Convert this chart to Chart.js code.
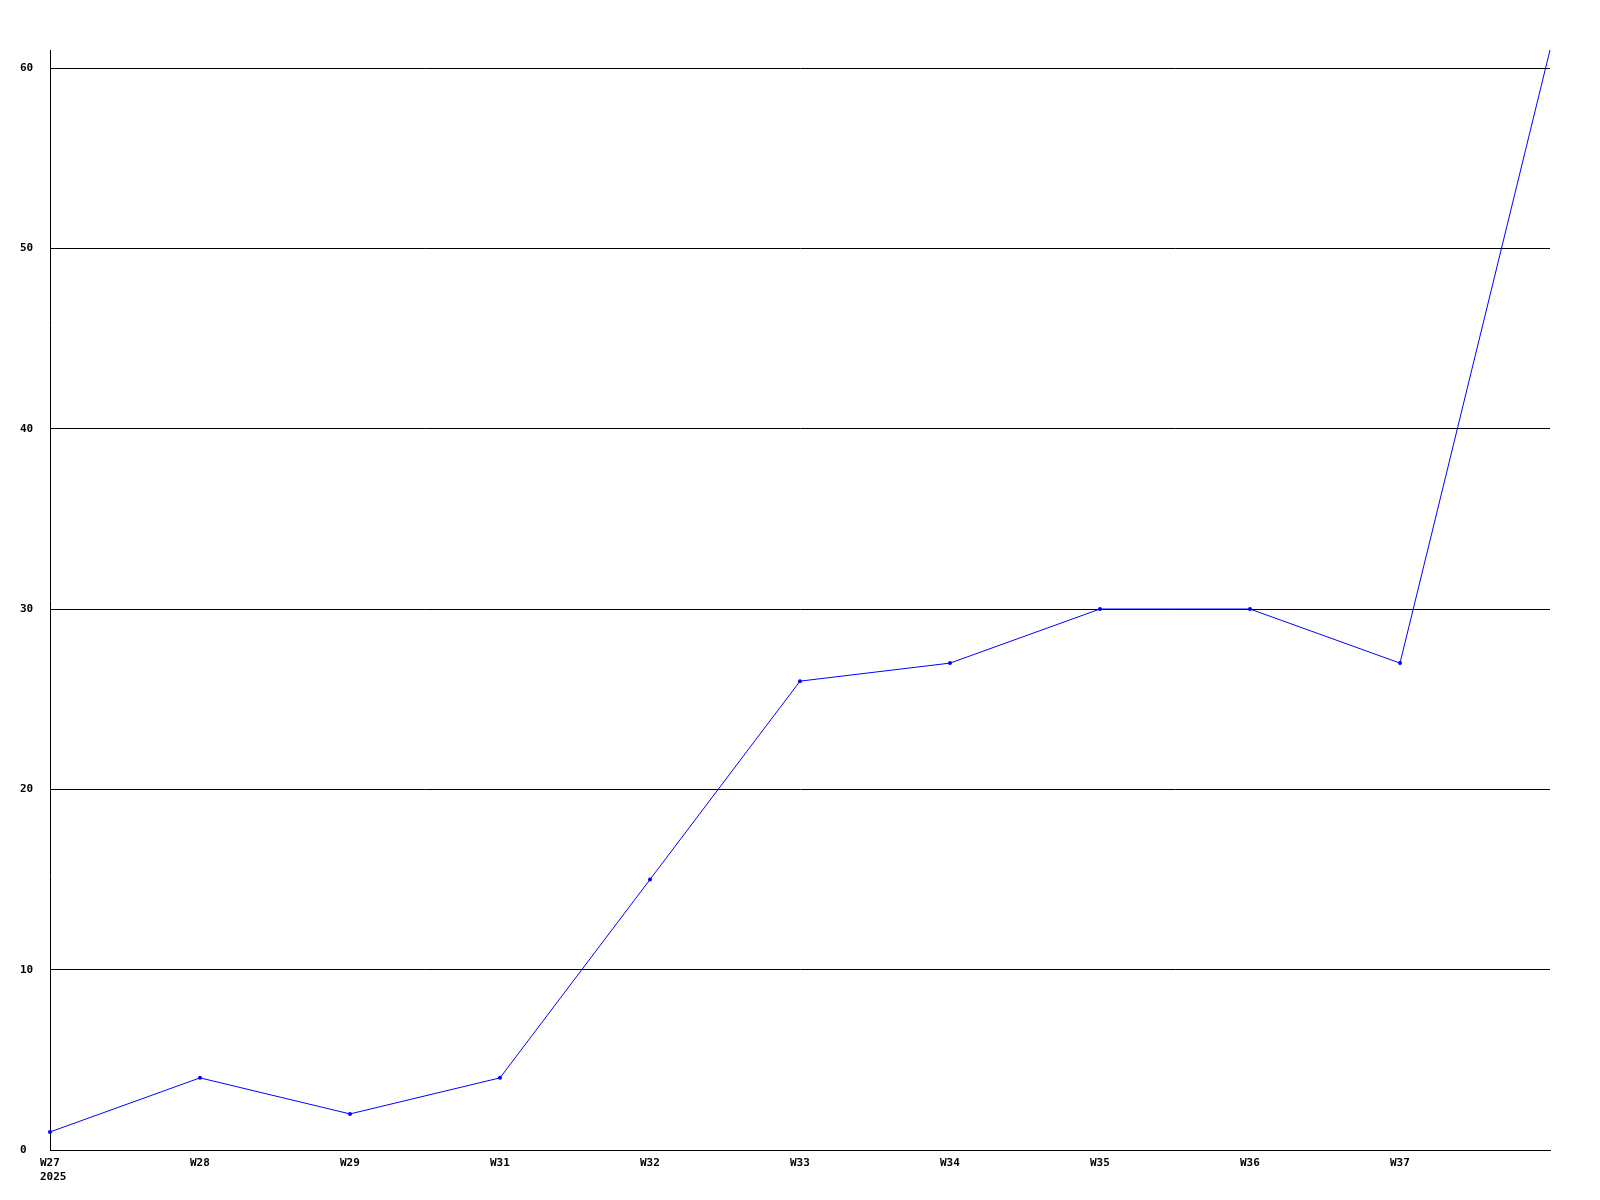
<!DOCTYPE html>
<html>
<head>
<meta charset="utf-8">
<script src="https://cdn.jsdelivr.net/npm/chart.js@4/dist/chart.umd.min.js"></script>
<style>
  html, body { margin: 0; padding: 0; background: #fff; }
  #wrap { width: 1600px; height: 1200px; }
</style>
</head>
<body>
<div id="wrap"><canvas id="grafico" width="1600" height="1200"></canvas></div>
<script>
// semanas (a ultima nao tem rotulo)
const semanas = [["W27", "2025"], "W28", "W29", "W31", "W32", "W33", "W34", "W35", "W36", "W37", ""];
const valores = [1, 4, 2, 4, 15, 26, 27, 30, 30, 27, 61];
const yTicks = [0, 10, 20, 30, 40, 50, 60];
const yMax = 61;

const fonte = { family: "'DejaVu Sans Mono', monospace", size: 11, weight: "bold" };
const grafico = document.getElementById("grafico").getContext("2d");

const meuGrafico = new Chart(grafico, {
  type: "line",
  data: {
    labels: semanas,
    datasets: [
      {
        data: valores,
        borderColor: "#0000ff",
        backgroundColor: "#0000ff",
        borderWidth: 1,
        // o ultimo ponto fica cortado no topo
        pointRadius: (ctx) => (ctx.dataIndex === valores.length - 1 ? 0 : 2),
        pointHoverRadius: 2,
        pointBorderWidth: 0,
        tension: 0,
      },
    ],
  },
  options: {
    responsive: false,
    animation: false,
    layout: { padding: { left: 20, top: 50, right: 50, bottom: 0 } },
    plugins: { legend: { display: false }, tooltip: { enabled: false } },
    scales: {
      x: {
        offset: false,
        grid: { display: false, drawTicks: false },
        border: { display: true, color: "#000", width: 1 },
        ticks: {
          color: "#000",
          font: fonte,
          align: "start",
          labelOffset: -10,
          maxRotation: 0,
          autoSkip: false,
          padding: 7,
        },
        afterFit: (axis) => { axis.height = 50; },
      },
      y: {
        min: 0,
        max: yMax,
        afterBuildTicks: (axis) => { axis.ticks = yTicks.map((v) => ({ value: v })); },
        grid: { color: "#000", lineWidth: 1, drawTicks: false },
        border: { display: true, color: "#000", width: 1 },
        ticks: {
          color: "#000",
          font: fonte,
          crossAlign: "far",
          padding: 0,
        },
        afterFit: (axis) => { axis.width = 30; },
      },
    },
  },
});
</script>
</body>
</html>
